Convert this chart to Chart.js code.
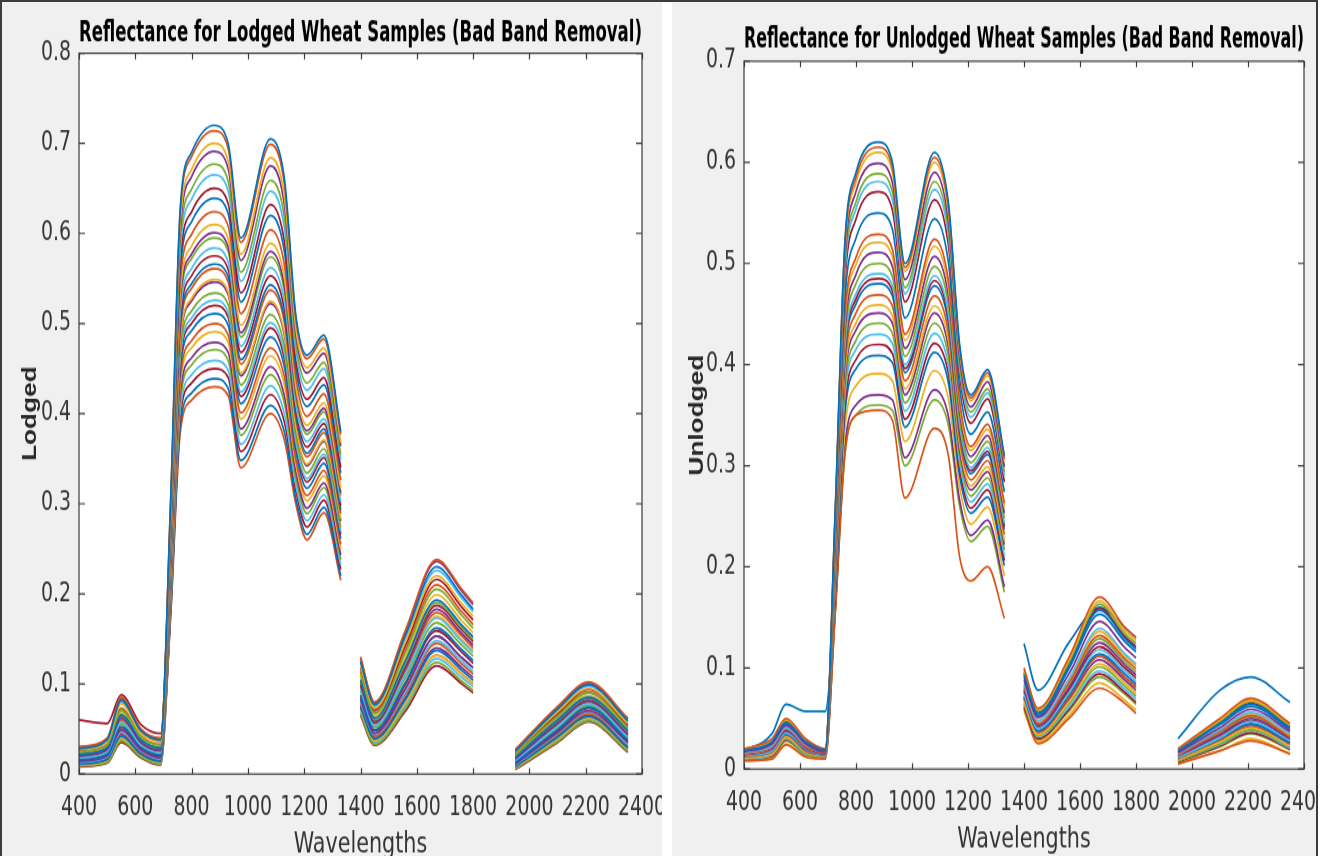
<!DOCTYPE html>
<html>
<head>
<meta charset="utf-8">
<title>Reflectance for Lodged / Unlodged Wheat Samples</title>
<script src="https://cdn.jsdelivr.net/npm/chart.js@4.4.1/dist/chart.umd.min.js"></script>
<style>
  html, body { margin: 0; padding: 0; width: 1324px; height: 856px; overflow: hidden; background: #fff; }
  .frame-top { position: absolute; left: 0; top: 0; width: 1318px; height: 2px; background: #3c3c3c; }
  .panel { position: absolute; top: 2px; height: 854px; background: #f0f0f0; box-sizing: border-box; }
  #panelLodged { left: 0; width: 662px; border-left: 2px solid #3c3c3c; }
  #panelUnlodged { left: 672px; width: 646px; border-right: 2px solid #3c3c3c; }
  canvas { position: absolute; top: 0; transform: scaleY(1.25); transform-origin: 0 0; }
  #lodgedChart { left: 0; width: 662px; height: 700px; }
  #unlodgedChart { left: 672px; width: 644px; height: 700px; }
</style>
</head>
<body>
<div class="frame-top"></div>
<div class="panel" id="panelLodged"></div>
<div class="panel" id="panelUnlodged"></div>
<canvas id="lodgedChart" width="662" height="700"></canvas>
<canvas id="unlodgedChart" width="644" height="700"></canvas>
<script>
// Sampled wavelengths (nm); the water absorption bands after 1330 and 1800 nm are removed.
const wavelengths = [400, 500, 550, 620, 690, 725, 760, 800, 880, 930, 975, 1080, 1130, 1170, 1210, 1270, 1330,
                     1400, 1450, 1560, 1670, 1760, 1800,
                     1950, 2100, 2210, 2350];
const bandGapsAfter = [1330, 1800];

const xTickRange = [400, 2400];
const xTickStep = 200;
const yTickStep = 0.1;
const yMaxLodged = 0.8;
const yMaxUnlodged = 0.7;

const lineColors = ['#0072BD', '#D95319', '#EDB120', '#7E2F8E', '#77AC30', '#4DBEEE', '#A2142F'];

// Lodged wheat reflectance spectra, one array per sample
const lodged01 = [.028,.038,.082,.048,.038, .300,.630,.690,.720,.700,.595,.705,.660,.510,.465,.487,.380, .125,.077,.154,.230,.198,.183, .025,.072,.099,.059];
const lodged02 = [.030,.040,.085,.050,.040, .297,.625,.685,.714,.694,.590,.699,.654,.506,.461,.483,.377, .130,.080,.160,.238,.205,.190, .027,.075,.102,.062];
const lodged03 = [.027,.036,.078,.045,.036, .291,.613,.671,.700,.680,.577,.684,.640,.495,.451,.473,.368, .120,.073,.147,.220,.189,.175, .024,.069,.095,.056];
const lodged04 = [.030,.039,.084,.049,.039, .287,.605,.663,.691,.672,.570,.675,.631,.489,.445,.467,.364, .129,.079,.158,.236,.203,.188, .027,.074,.101,.061];
const lodged05 = [.024,.032,.071,.041,.032, .281,.593,.649,.677,.658,.557,.659,.617,.479,.434,.457,.355, .112,.067,.135,.205,.176,.162, .021,.064,.090,.051];
const lodged06 = [.028,.037,.080,.047,.037, .275,.583,.638,.665,.647,.547,.647,.605,.470,.426,.450,.349, .124,.075,.151,.226,.195,.180, .025,.071,.098,.058];
const lodged07 = [.060,.056,.088,.055,.045, .269,.570,.624,.650,.633,.534,.632,.590,.460,.416,.440,.340, .118,.071,.143,.216,.185,.171, .023,.067,.094,.055];
const lodged08 = [.022,.029,.066,.038,.029, .264,.560,.613,.639,.622,.524,.620,.579,.451,.408,.432,.334, .105,.062,.126,.193,.165,.152, .019,.060,.085,.048];
const lodged09 = [.025,.033,.073,.042,.033, .257,.548,.599,.624,.608,.511,.604,.564,.441,.397,.422,.326, .114,.068,.138,.210,.180,.166, .022,.065,.091,.053];
const lodged10 = [.023,.031,.069,.039,.030, .251,.535,.586,.610,.594,.498,.589,.550,.430,.387,.412,.317, .109,.064,.130,.199,.170,.157, .020,.062,.087,.049];
const lodged11 = [.020,.027,.062,.035,.026, .247,.528,.577,.601,.585,.490,.580,.541,.424,.381,.406,.312, .099,.057,.118,.183,.156,.143, .017,.056,.081,.044];
const lodged12 = [.021,.029,.065,.037,.028, .244,.523,.572,.595,.580,.485,.574,.535,.420,.377,.402,.309, .103,.060,.123,.190,.162,.149, .018,.059,.084,.046];
const lodged13 = [.018,.025,.058,.032,.024, .239,.513,.561,.584,.568,.475,.562,.524,.411,.369,.394,.302, .094,.054,.111,.173,.147,.135, .015,.053,.078,.041];
const lodged14 = [.021,.028,.064,.036,.027, .235,.505,.553,.575,.560,.468,.553,.515,.405,.363,.389,.298, .102,.059,.121,.187,.160,.147, .018,.058,.083,.046];
const lodged15 = [.016,.022,.053,.030,.021, .231,.498,.544,.566,.552,.460,.543,.506,.399,.356,.383,.293, .088,.049,.102,.162,.138,.126, .013,.049,.074,.038];
const lodged16 = [.019,.026,.060,.034,.025, .229,.493,.539,.561,.546,.455,.537,.501,.395,.352,.379,.289, .098,.056,.115,.179,.153,.140, .016,.055,.080,.043];
const lodged17 = [.018,.025,.059,.033,.024, .223,.483,.528,.549,.535,.445,.525,.489,.386,.344,.371,.283, .096,.055,.112,.175,.149,.137, .015,.054,.079,.042];
const lodged18 = [.014,.020,.049,.027,.018, .222,.480,.525,.546,.532,.442,.522,.486,.384,.342,.369,.281, .083,.045,.095,.153,.129,.118, .011,.046,.070,.035];
const lodged19 = [.017,.023,.056,.031,.022, .217,.470,.514,.534,.521,.432,.510,.474,.376,.334,.361,.274, .092,.052,.107,.168,.143,.131, .014,.051,.076,.040];
const lodged20 = [.013,.019,.047,.026,.017, .213,.463,.506,.526,.512,.424,.501,.466,.369,.328,.355,.269, .081,.044,.092,.148,.125,.114, .010,.045,.069,.033];
const lodged21 = [.015,.021,.052,.029,.020, .210,.458,.500,.520,.507,.419,.495,.460,.365,.324,.351,.266, .086,.048,.100,.159,.135,.123, .012,.048,.073,.037];
const lodged22 = [.011,.016,.042,.022,.014, .206,.450,.492,.511,.498,.411,.485,.451,.359,.317,.345,.261, .074,.039,.083,.137,.115,.104, .008,.041,.064,.029];
const lodged23 = [.013,.018,.046,.025,.016, .201,.440,.481,.500,.487,.401,.473,.440,.350,.309,.337,.255, .079,.042,.089,.145,.122,.111, .010,.043,.067,.032];
const lodged24 = [.010,.015,.040,.021,.013, .197,.433,.473,.491,.479,.394,.464,.431,.344,.303,.331,.250, .072,.037,.079,.132,.111,.100, .007,.039,.062,.028];
const lodged25 = [.012,.017,.044,.023,.015, .192,.423,.462,.479,.468,.383,.452,.419,.336,.295,.323,.243, .076,.040,.085,.140,.118,.107, .009,.042,.065,.030];
const lodged26 = [.009,.013,.037,.019,.011, .188,.415,.454,.471,.459,.376,.443,.411,.329,.289,.318,.238, .067,.033,.073,.124,.103,.093, .006,.036,.059,.025];
const lodged27 = [.010,.014,.039,.020,.012, .183,.405,.443,.459,.448,.366,.431,.399,.321,.281,.310,.232, .070,.035,.076,.128,.107,.097, .007,.038,.061,.027];
const lodged28 = [.008,.012,.035,.018,.010, .179,.398,.434,.450,.440,.358,.421,.390,.315,.274,.304,.227, .065,.032,.070,.120,.100,.090, .005,.035,.058,.024];
const lodged29 = [.014,.020,.049,.027,.018, .174,.388,.423,.439,.428,.348,.409,.379,.306,.266,.296,.220, .083,.045,.095,.153,.129,.118, .011,.046,.070,.035];
const lodged30 = [.010,.015,.040,.021,.013, .170,.380,.415,.430,.420,.340,.400,.370,.300,.260,.290,.215, .072,.037,.079,.132,.111,.100, .007,.039,.062,.028];

// Unlodged wheat reflectance spectra, one array per sample
const unlodged01 = [.018,.027,.046,.027,.019, .250,.520,.590,.620,.600,.500,.610,.560,.420,.370,.395,.310, .093,.055,.101,.157,.129,.119, .018,.045,.064,.041];
const unlodged02 = [.020,.030,.050,.030,.020, .248,.516,.585,.615,.595,.496,.605,.556,.417,.367,.392,.307, .100,.060,.110,.170,.140,.130, .020,.050,.070,.045];
const unlodged03 = [.020,.029,.049,.029,.020, .246,.512,.580,.610,.590,.492,.600,.551,.414,.364,.389,.305, .098,.059,.108,.166,.137,.127, .019,.049,.068,.044];
const unlodged04 = [.017,.025,.043,.025,.017, .242,.503,.571,.599,.580,.484,.590,.542,.407,.358,.383,.299, .088,.051,.094,.146,.120,.110, .016,.041,.059,.037];
const unlodged05 = [.019,.028,.048,.029,.019, .238,.495,.561,.589,.571,.476,.581,.534,.401,.353,.376,.294, .096,.057,.105,.163,.134,.124, .019,.047,.067,.043];
const unlodged06 = [.016,.023,.041,.024,.017, .235,.489,.554,.581,.563,.470,.573,.527,.396,.348,.372,.290, .084,.048,.089,.139,.114,.104, .015,.039,.056,.035];
const unlodged07 = [.019,.028,.047,.028,.019, .231,.480,.544,.571,.553,.462,.563,.518,.390,.342,.366,.284, .095,.056,.103,.159,.131,.121, .018,.046,.065,.041];
const unlodged08 = [.018,.026,.045,.027,.018, .223,.463,.525,.550,.534,.446,.544,.501,.377,.331,.353,.274, .091,.053,.099,.153,.126,.116, .017,.044,.062,.039];
const unlodged09 = [.015,.022,.040,.022,.016, .215,.447,.506,.529,.514,.430,.524,.483,.364,.319,.341,.263, .081,.045,.085,.132,.109,.099, .014,.037,.053,.032];
const unlodged10 = [.015,.022,.041,.023,.016, .212,.440,.499,.521,.507,.424,.517,.476,.359,.315,.336,.259, .083,.047,.087,.136,.112,.102, .014,.038,.055,.034];
const unlodged11 = [.014,.020,.038,.021,.015, .208,.432,.489,.511,.497,.416,.507,.468,.353,.309,.330,.253, .078,.043,.080,.125,.103,.093, .013,.034,.050,.030];
const unlodged12 = [.014,.021,.039,.022,.015, .204,.423,.480,.500,.487,.408,.497,.459,.346,.303,.324,.248, .079,.044,.082,.129,.106,.096, .013,.035,.052,.031];
const unlodged13 = [.013,.018,.036,.020,.014, .200,.415,.470,.490,.478,.400,.488,.450,.340,.298,.318,.243, .074,.040,.075,.118,.097,.087, .011,.031,.047,.028];
const unlodged14 = [.014,.019,.037,.020,.015, .198,.411,.465,.485,.473,.396,.483,.446,.337,.295,.314,.240, .076,.041,.078,.121,.100,.090, .012,.033,.048,.029];
const unlodged15 = [.013,.018,.035,.019,.014, .196,.407,.460,.480,.468,.392,.478,.441,.334,.292,.311,.237, .072,.038,.073,.114,.094,.084, .011,.030,.045,.026];
const unlodged16 = [.012,.017,.034,.018,.014, .192,.398,.451,.469,.458,.384,.468,.432,.327,.286,.305,.232, .071,.037,.071,.112,.091,.081, .010,.029,.044,.026];
const unlodged17 = [.011,.015,.032,.017,.013, .188,.390,.441,.459,.448,.376,.458,.424,.321,.280,.299,.226, .067,.034,.066,.104,.085,.075, .009,.027,.041,.023];
const unlodged18 = [.012,.016,.033,.018,.013, .185,.384,.434,.451,.441,.370,.451,.417,.316,.276,.294,.222, .069,.036,.069,.108,.088,.078, .010,.028,.042,.024];
const unlodged19 = [.011,.015,.031,.016,.012, .181,.375,.424,.441,.431,.362,.441,.408,.310,.270,.288,.217, .065,.033,.064,.101,.082,.072, .008,.025,.039,.022];
const unlodged20 = [.010,.014,.030,.015,.012, .177,.367,.415,.430,.421,.354,.431,.399,.303,.264,.282,.211, .064,.032,.061,.097,.079,.069, .008,.024,.038,.021];
const unlodged21 = [.010,.013,.029,.015,.012, .173,.358,.405,.420,.411,.346,.421,.391,.297,.258,.276,.206, .062,.030,.059,.094,.076,.066, .007,.023,.036,.020];
const unlodged22 = [.018,.035,.064,.057,.057, .169,.350,.396,.409,.402,.338,.412,.382,.290,.253,.269,.201, .124,.078,.125,.160,.140,.130, .030,.078,.091,.066];
const unlodged23 = [.008,.010,.024,.012,.010, .150,.310,.350,.355,.345,.268,.337,.310,.210,.186,.200,.149, .060,.025,.050,.080,.065,.055, .005,.018,.028,.015];
const unlodged24 = [.008,.010,.025,.012,.010, .162,.335,.379,.391,.384,.324,.394,.366,.279,.242,.259,.191, .057,.027,.053,.085,.068,.058, .005,.018,.030,.015];
const unlodged25 = [.012,.017,.034,.018,.014, .154,.318,.360,.370,.365,.308,.375,.349,.266,.231,.246,.180, .071,.037,.071,.112,.091,.081, .010,.029,.044,.026];
const unlodged26 = [.009,.012,.028,.014,.011, .150,.310,.350,.360,.355,.300,.365,.340,.260,.225,.240,.175, .060,.029,.057,.091,.074,.064, .007,.022,.035,.019];

const lodgedSamples = [lodged01, lodged02, lodged03, lodged04, lodged05, lodged06, lodged07, lodged08, lodged09, lodged10,
  lodged11, lodged12, lodged13, lodged14, lodged15, lodged16, lodged17, lodged18, lodged19, lodged20,
  lodged21, lodged22, lodged23, lodged24, lodged25, lodged26, lodged27, lodged28, lodged29, lodged30];
const unlodgedSamples = [unlodged01, unlodged02, unlodged03, unlodged04, unlodged05, unlodged06, unlodged07, unlodged08, unlodged09, unlodged10,
  unlodged11, unlodged12, unlodged13, unlodged14, unlodged15, unlodged16, unlodged17, unlodged18, unlodged19, unlodged20,
  unlodged21, unlodged22, unlodged23, unlodged24, unlodged25, unlodged26];

const NARROW = "'Liberation Sans Narrow', 'DejaVu Sans Condensed', 'Liberation Sans', sans-serif";
const V_STRETCH = 1.25; // canvases are stretched vertically by CSS

// Pair each value with its wavelength and break the line across the removed bands.
function toPoints(values) {
  const pts = [];
  values.forEach((v, i) => {
    const w = wavelengths[i];
    pts.push({ x: w, y: v });
    if (bandGapsAfter.includes(w)) pts.push({ x: w + 1, y: null });
  });
  return pts;
}

// White plot box, axes frame and inward tick marks on all four sides.
const axesFrame = {
  id: 'axesFrame',
  beforeDraw(chart) {
    const { ctx, chartArea: a } = chart;
    ctx.save();
    ctx.fillStyle = '#ffffff';
    ctx.fillRect(a.left, a.top, a.width, a.height);
    ctx.restore();
  },
  afterDatasetsDraw(chart) {
    const { ctx, chartArea: a, scales: { x, y } } = chart;
    const len = 6;
    ctx.save();
    ctx.strokeStyle = '#3a3a3a';
    ctx.lineWidth = 1.2;
    ctx.beginPath();
    x.ticks.forEach((t, i) => {
      const px = Math.round(x.getPixelForTick(i)) + 0.5;
      ctx.moveTo(px, a.bottom); ctx.lineTo(px, a.bottom - len / V_STRETCH);
      ctx.moveTo(px, a.top); ctx.lineTo(px, a.top + len / V_STRETCH);
    });
    y.ticks.forEach((t, i) => {
      const py = y.getPixelForTick(i);
      ctx.moveTo(a.left, py); ctx.lineTo(a.left + len, py);
      ctx.moveTo(a.right, py); ctx.lineTo(a.right - len, py);
    });
    ctx.stroke();
    ctx.strokeRect(a.left, a.top, a.width, a.height);
    ctx.restore();
  }
};

function makeChart(canvasId, cfg) {
  return new Chart(document.getElementById(canvasId), {
    type: 'line',
    data: {
      datasets: cfg.samples.map((vals, i) => ({
        data: toPoints(vals),
        borderColor: lineColors[i % lineColors.length],
        borderWidth: 1.7,
        pointRadius: 0,
        fill: false,
        cubicInterpolationMode: 'monotone'
      }))
    },
    options: {
      responsive: false,
      animation: false,
      events: [],
      layout: { padding: { left: 0, right: cfg.padRight, top: 0, bottom: 0 } },
      plugins: {
        legend: { display: false },
        tooltip: { enabled: false },
        title: {
          display: true,
          fullSize: false,
          text: cfg.title,
          color: '#000000',
          font: { family: NARROW, size: 23.5, weight: 'bold', lineHeight: 1.2 },
          padding: { top: cfg.titlePad[0], bottom: cfg.titlePad[1] }
        }
      },
      scales: {
        x: {
          type: 'linear',
          min: xTickRange[0],
          max: xTickRange[1],
          grid: { display: false, drawTicks: false },
          border: { display: false },
          ticks: {
            stepSize: xTickStep,
            autoSkip: false,
            maxRotation: 0,
            padding: 14.6,
            color: '#333333',
            font: { family: NARROW, size: 21, lineHeight: 1.2 },
            callback: v => String(v)
          },
          title: {
            display: true,
            text: 'Wavelengths',
            color: '#333333',
            font: { family: NARROW, size: 23, lineHeight: 1.2 },
            padding: { top: 0, bottom: cfg.xTitlePadBottom }
          },
          afterFit: s => { s.height = cfg.xAxisHeight; s.paddingLeft = 0; s.paddingRight = 0; }
        },
        y: {
          min: 0,
          max: cfg.yMax,
          grid: { display: false, drawTicks: false },
          border: { display: false },
          ticks: {
            stepSize: yTickStep,
            padding: 8,
            color: '#333333',
            font: { family: NARROW, size: 21, lineHeight: 1.2 },
            callback: v => String(Math.round(v * 10) / 10)
          },
          title: {
            display: true,
            text: cfg.yTitle,
            color: '#262626',
            font: { family: "'Liberation Sans', Arial, sans-serif", size: 21, weight: 'bold', lineHeight: 1.2 },
            padding: { top: cfg.yTitlePadTop, bottom: 0 }
          },
          afterFit: s => { s.width = cfg.yAxisWidth; s.paddingTop = 0; s.paddingBottom = 0; }
        }
      }
    },
    plugins: [axesFrame]
  });
}

makeChart('lodgedChart', {
  samples: lodgedSamples,
  title: 'Reflectance for Lodged Wheat Samples (Bad Band Removal)',
  yTitle: 'Lodged',
  yMax: yMaxLodged,
  padRight: 20,
  titlePad: [12.8, 1.6],
  xAxisHeight: 80.8,
  xTitlePadBottom: 10.2,
  yAxisWidth: 79,
  yTitlePadTop: 17.4
});

makeChart('unlodgedChart', {
  samples: unlodgedSamples,
  title: 'Reflectance for Unlodged Wheat Samples (Bad Band Removal)',
  yTitle: 'Unlodged',
  yMax: yMaxUnlodged,
  padRight: 12,
  titlePad: [17.6, 3.2],
  xAxisHeight: 84.8,
  xTitlePadBottom: 14.2,
  yAxisWidth: 72,
  yTitlePadTop: 12.4
});
</script>
</body>
</html>
